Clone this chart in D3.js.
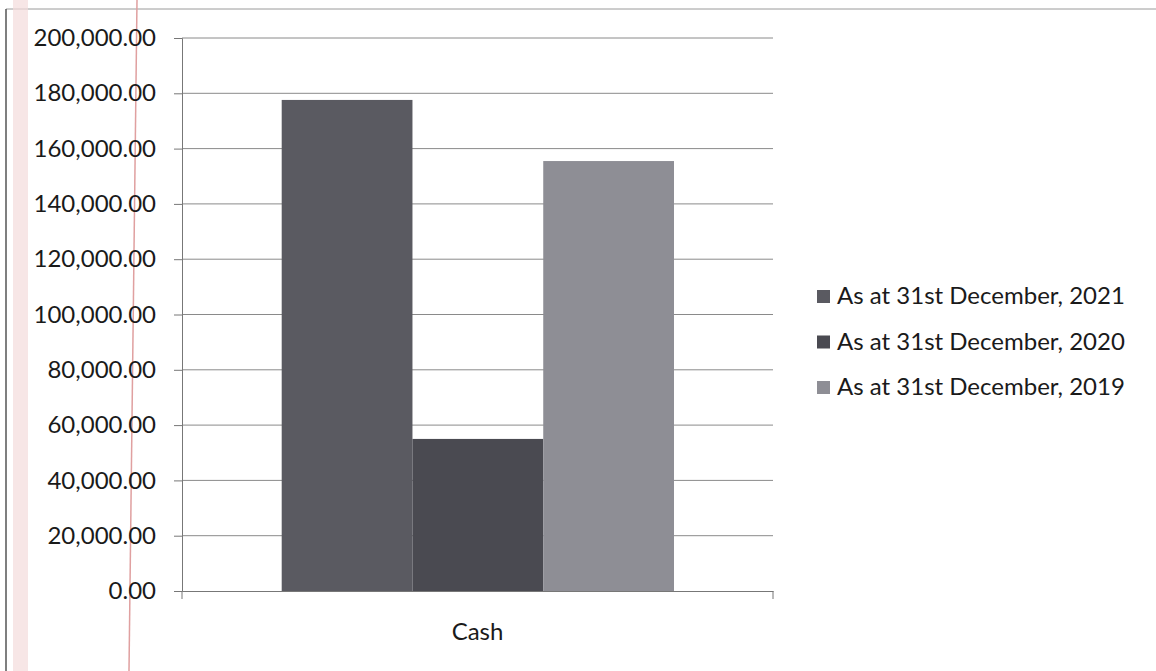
<!DOCTYPE html>
<html><head><meta charset="utf-8">
<script src="https://cdn.jsdelivr.net/npm/d3@7/dist/d3.min.js"></script>
<style>body{margin:0;background:#fff}svg{display:block}</style>
</head><body>
<svg id="c" width="1156" height="671"></svg>
<script>
const categories = ["Cash"];
const seriesNames = ["As at 31st December, 2021", "As at 31st December, 2020", "As at 31st December, 2019"];
const seriesValues = [177600, 55000, 155500];
const tickValues = [0, 20000, 40000, 60000, 80000, 100000, 120000, 140000, 160000, 180000, 200000];
const colors = ["#5a5a61", "#4a4a51", "#8e8e95"];

const svg = d3.select("#c");
const font = "Lato, 'Open Sans', sans-serif";
// scan frame decorations
svg.append("line").attr("x1",6).attr("x2",1156).attr("y1",9).attr("y2",9).attr("stroke","#9a9a9a").attr("stroke-width",1);
svg.append("line").attr("x1",6).attr("x2",6).attr("y1",9).attr("y2",671).attr("stroke","#555").attr("stroke-width",1.5);
svg.append("rect").attr("x",13).attr("y",0).attr("width",15).attr("height",671).attr("fill","#f3dcdc").attr("opacity",0.7);
svg.append("line").attr("x1",137).attr("x2",129).attr("y1",0).attr("y2",671).attr("stroke","#e0a0a0").attr("stroke-width",1.5);

const x0 = d3.scaleBand().domain(categories).range([182, 773]);
const x1 = d3.scaleBand().domain(seriesNames).range([281.7 - 182, 674 - 182]);
const y = d3.scaleLinear().domain([0, 200000]).range([591, 38]);

// gridlines
svg.append("g").selectAll("line").data(tickValues.slice(1)).join("line")
  .attr("x1",182).attr("x2",773).attr("y1",d=>y(d)).attr("y2",d=>y(d))
  .attr("stroke","#8a8a8a").attr("stroke-width",1);

// bars
const g = svg.append("g");
categories.forEach(cat => {
  g.selectAll("rect.b").data(seriesValues).join("rect").attr("class","b")
    .attr("x",(d,i)=>x0(cat)+x1(seriesNames[i]))
    .attr("width",x1.bandwidth())
    .attr("y",d=>y(d)).attr("height",d=>y(0)-y(d))
    .attr("fill",(d,i)=>colors[i]);
});

// y axis
const yAxis = d3.axisLeft(y).tickValues(tickValues).tickSize(8).tickPadding(18)
  .tickFormat(d=>d3.format(",.2f")(d));
const ya = svg.append("g").attr("transform","translate(182,0)").call(yAxis);
ya.select(".domain").attr("stroke","#777");
ya.selectAll(".tick line").attr("stroke","#777");
ya.selectAll("text").attr("font-family",font).attr("font-size",24).attr("fill","#1a1a1a");

// x axis
const xa = svg.append("g").attr("transform","translate(0,591)")
  .call(d3.axisBottom(x0).tickSize(0).tickPadding(32));
xa.select(".domain").attr("stroke","#777");
xa.selectAll("text").attr("font-family",font).attr("font-size",24).attr("fill","#1a1a1a");
[182, 773].forEach(xx => svg.append("line").attr("x1",xx).attr("x2",xx).attr("y1",591).attr("y2",599).attr("stroke","#777"));

// legend
const lg = svg.append("g").selectAll("g").data(seriesNames).join("g")
  .attr("transform",(d,i)=>`translate(817,${296 + i*45.5})`);
lg.append("rect").attr("x",0).attr("y",-6).attr("width",13).attr("height",13).attr("fill",(d,i)=>colors[i]);
lg.append("text").attr("x",20).attr("y",0).attr("dy","0.35em").text(d=>d)
  .attr("font-family",font).attr("font-size",24).attr("fill","#1a1a1a");
</script>
</body></html>
